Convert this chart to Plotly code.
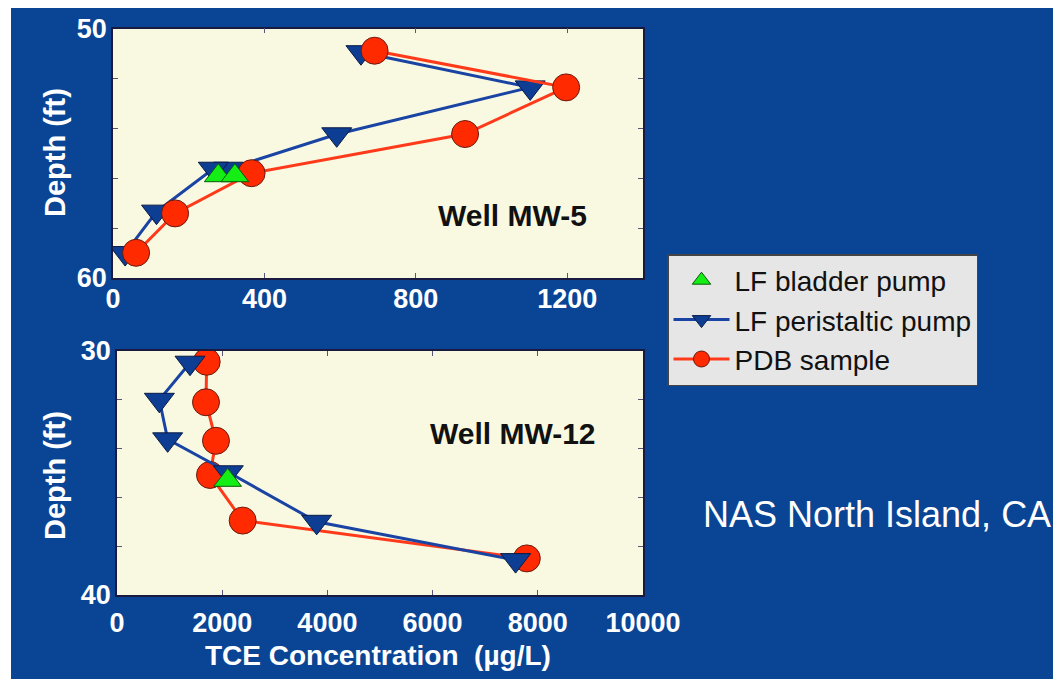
import plotly.graph_objects as go

W, H = 1061, 679
OFF = 8  # page body margin offset

# ---------------- data ----------------
# Well MW-5 (top panel)
mw5_pdb_tce = [691, 1197, 930, 366, 164, 61]
mw5_pdb_depth = [50.89, 52.36, 54.23, 55.80, 57.41, 58.99]
mw5_peri_tce = [655, 1102, 591, 305, 265, 115, 32]
mw5_peri_depth = [50.95, 52.36, 54.24, 55.62, 55.62, 57.34, 59.00]
mw5_bladder_tce = [278, 322]
mw5_bladder_depth = [55.90, 55.90]

# Well MW-12 (bottom panel)
mw12_pdb_tce = [1705, 1692, 1882, 1768, 2389, 7791]
mw12_pdb_depth = [30.44, 32.10, 33.68, 35.08, 36.95, 38.50]
mw12_peri_tce = [1388, 805, 963, 2116, 3796, 7578]
mw12_peri_depth = [30.48, 32.00, 33.62, 34.97, 37.00, 38.57]
mw12_bladder_tce = [2104]
mw12_bladder_depth = [35.30]

mw5_xticks = [0, 400, 800, 1200]
mw5_xticklabels = ["0", "400", "800", "1200"]
mw12_xticks = [0, 2000, 4000, 6000, 8000, 10000]
mw12_xticklabels = ["0", "2000", "4000", "6000", "8000", "10000"]
mw5_yticks = [50, 52, 54, 56, 58, 60]
mw5_yticklabels = ["50", "", "", "", "", "60"]
mw12_yticks = [30, 32, 34, 36, 38, 40]
mw12_yticklabels = ["30", "", "", "", "", "40"]

names = ["LF bladder pump", "LF peristaltic pump", "PDB sample"]

# ---------------- styles ----------------
BG = "#0a4595"
PLOT_BG = "#f9f9e1"
RED = "#ff2a00"
RED_LINE = "#ff3a1a"
BLUE = "#0d3e93"
BLUE_LINE = "#1a44a3"
GREEN = "#14ee14"
FRAME = "#1a1a40"
FONT = "Liberation Sans, Arial, sans-serif"

def px(x):
    return (x - OFF) / W

def py(y):
    return 1 - (y - OFF) / H

fig = go.Figure()

def peri(x, y, xa, ya, show):
    return go.Scatter(x=x, y=y, xaxis=xa, yaxis=ya, mode="lines+markers",
                      name=names[1], legendrank=2, showlegend=show, legendgroup="peri",
                      line=dict(color=BLUE_LINE, width=3),
                      marker=dict(symbol="triangle-down", size=26, color=BLUE,
                                  line=dict(color="#0a1a45", width=1)))

def pdb(x, y, xa, ya, show):
    return go.Scatter(x=x, y=y, xaxis=xa, yaxis=ya, mode="lines+markers",
                      name=names[2], legendrank=3, showlegend=show, legendgroup="pdb",
                      line=dict(color=RED_LINE, width=3),
                      marker=dict(symbol="circle", size=27, color=RED,
                                  line=dict(color="#6a1a10", width=1)))

def bladder(x, y, xa, ya, show):
    return go.Scatter(x=x, y=y, xaxis=xa, yaxis=ya, mode="markers",
                      name=names[0], legendrank=1, showlegend=show, legendgroup="bl",
                      marker=dict(symbol="triangle-up", size=24, color=GREEN,
                                  line=dict(color="#0a5a0a", width=1)))

# top panel: red drawn over blue
fig.add_trace(peri(mw5_peri_tce, mw5_peri_depth, "x", "y", True))
fig.add_trace(pdb(mw5_pdb_tce, mw5_pdb_depth, "x", "y", True))
fig.add_trace(bladder(mw5_bladder_tce, mw5_bladder_depth, "x", "y", True))
# bottom panel: blue drawn over red
fig.add_trace(pdb(mw12_pdb_tce, mw12_pdb_depth, "x2", "y2", False))
fig.add_trace(peri(mw12_peri_tce, mw12_peri_depth, "x2", "y2", False))
fig.add_trace(bladder(mw12_bladder_tce, mw12_bladder_depth, "x2", "y2", False))

tickfont = dict(family=FONT, size=27, color="white", weight="bold")
common = dict(showgrid=False, zeroline=False, showline=True, linecolor=FRAME, linewidth=1.5,
              mirror="ticks", ticks="inside", ticklen=5, tickcolor="#555577", tickwidth=1,
              tickfont=tickfont)

def ann(text, x, y, size, color, bold=True, angle=0):
    f = dict(family=FONT, size=size, color=color)
    if bold:
        f["weight"] = "bold"
    return dict(text=text, x=px(x), y=py(y), xref="paper", yref="paper",
                xanchor="center", yanchor="middle", textangle=angle,
                showarrow=False, font=f)

fig.update_layout(
    width=W, height=H,
    margin=dict(l=0, r=0, t=0, b=0, autoexpand=False),
    paper_bgcolor=BG,
    plot_bgcolor=PLOT_BG,
    font=dict(family=FONT),
    xaxis=dict(domain=[px(113), px(643)], range=[0, 1400], tickvals=mw5_xticks,
               ticktext=mw5_xticklabels, anchor="y", ticklabelstandoff=-4, **common),
    yaxis=dict(domain=[py(278), py(28.5)], range=[60, 50], tickvals=mw5_yticks,
               ticktext=mw5_yticklabels, anchor="x", ticklabelstandoff=-1, **common),
    xaxis2=dict(domain=[px(117), px(643)], range=[0, 10000], tickvals=mw12_xticks,
                ticktext=mw12_xticklabels, anchor="y2", ticklabelstandoff=3, **common),
    yaxis2=dict(domain=[py(595), py(351)], range=[40, 30], tickvals=mw12_yticks,
                ticktext=mw12_yticklabels, anchor="x2", ticklabelstandoff=-1, **common),
    legend=dict(x=px(667), y=py(254), xanchor="left", yanchor="top",
                bgcolor="#e6e6e6", bordercolor="#444444", borderwidth=1.5,
                font=dict(family=FONT, size=28, color="#111111"),
                tracegroupgap=0, itemwidth=56, entrywidth=330, entrywidthmode="pixels"),
    showlegend=True,
    shapes=[dict(type="rect", xref="paper", yref="paper", x0=0, x1=3 / W, y0=0, y1=1,
                 fillcolor="white", line=dict(width=0), layer="below")],
    annotations=[
        ann("Depth (ft)", 55, 153, 29, "white", angle=-90),
        ann("Depth (ft)", 55, 476, 29, "white", angle=-90),
        ann("TCE Concentration  (µg/L)", 378, 655, 28, "white"),
        ann("Well MW-5", 512, 215, 30, "#111111"),
        ann("Well MW-12", 513, 433, 30, "#111111"),
        ann("NAS North Island, CA", 877, 514, 36, "white", bold=False),
    ],
)

fig.write_html("out.html")
